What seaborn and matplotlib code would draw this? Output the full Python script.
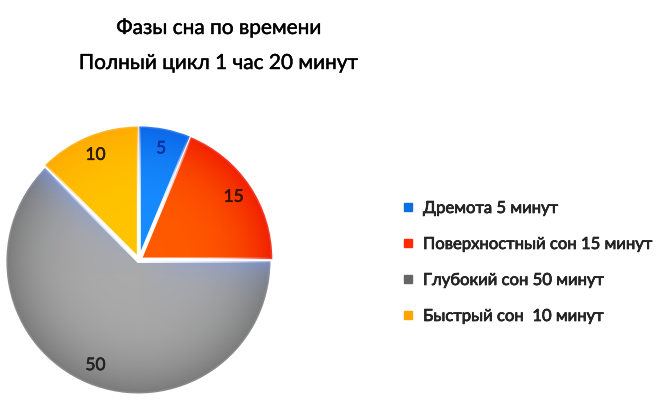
import numpy as np
import matplotlib
matplotlib.use("Agg")
import matplotlib.pyplot as plt
import matplotlib.patheffects as pe
import seaborn as sns
from matplotlib.colors import to_rgb
from matplotlib.lines import Line2D

# Sleep phases within one full cycle (minutes)
phases = ["Дремота 5 минут", "Поверхностный сон 15 минут",
          "Глубокий сон 50 минут", "Быстрый сон  10 минут"]
minutes = [5, 15, 50, 10]
slice_colors = ["#168cff", "#ff5a00", "#aaaaaa", "#ffc400"]
rim_colors = ["#0a62e6", "#f01800", "#747474", "#ffa800"]
legend_colors = ["#0a6fe0", "#ff2a00", "#666666", "#ffa500"]
label_colors = ["#1030a0", "#3a1200", "#222222", "#2a1a00"]
title_lines = ["Фазы сна по времени", "Полный цикл 1 час 20 минут"]

sns.set_theme(style="white")
plt.rcParams["font.family"] = ["Lato", "DejaVu Sans"]

fig = plt.figure(figsize=(6.6, 4.0), dpi=100)

# pie axes: centre near (139, 260) px, radius about 132 px
R = 134
cx, cy = 139, 260
ax = fig.add_axes([(cx - R) / 660, (400 - cy - R) / 400, 2 * R / 660, 2 * R / 400])

wedges, texts = ax.pie(
    minutes, colors=slice_colors, startangle=90, counterclock=False,
    explode=[0.012] * len(minutes), radius=0.985,
    labels=[str(m) for m in minutes], labeldistance=0.85,
    wedgeprops=dict(edgecolor="white", linewidth=2.2),
    textprops=dict(fontsize=12.5),
)
for t, c in zip(texts, label_colors):
    t.set_ha("center")
    t.set_va("center")
    t.set_color(c)
    t.set_zorder(10)
    t.set_path_effects([pe.withStroke(linewidth=0.4, foreground=c)])

# soft radial shading over each slice, toward a deeper rim colour
n = 400
g = np.linspace(-1.05, 1.05, n)
X, Y = np.meshgrid(g, g[::-1])
Rr = np.sqrt(X ** 2 + Y ** 2)
alpha = np.clip(0.9 * Rr ** 3.5, 0, 0.85)
for w, rc in zip(wedges, rim_colors):
    shade = np.zeros((n, n, 4))
    shade[..., :3] = to_rgb(rc)
    shade[..., 3] = alpha
    im = ax.imshow(shade, extent=[-1.05, 1.05, -1.05, 1.05], zorder=w.get_zorder() + 0.5,
                   interpolation="bilinear")
    im.set_clip_path(w)

# bluish sheen along the straight edges of the large slice
deep = wedges[2]
d_right = np.where(X > 0, np.abs(Y), 9)
a135 = np.radians(135)
d_left = np.abs(X * np.sin(a135) - Y * np.cos(a135))
d_left = np.where((X < 0) & (Y > -0.1), d_left, 9)
tint = np.zeros((n, n, 4))
tint[..., 0] = 0.48
tint[..., 1] = 0.62
tint[..., 2] = 1.0
tint[..., 3] = np.clip(0.6 * np.exp(-d_right / 0.12) * np.clip(X, 0, 1) ** 0.6
                       + 0.7 * np.exp(-d_left / 0.10) * np.clip(Rr, 0, 1) ** 0.8, 0, 0.65)
im = ax.imshow(tint, extent=[-1.05, 1.05, -1.05, 1.05], zorder=deep.get_zorder() + 0.6,
               interpolation="bilinear")
im.set_clip_path(deep)

ax.set_xlim(-1.0, 1.0)
ax.set_ylim(-1.0, 1.0)
ax.set_aspect("equal")
ax.axis("off")

# title
for i, line in enumerate(title_lines):
    fig.text(219 / 660, 1 - (28 + 35 * i) / 400, line, ha="center", va="center",
             fontsize=15, color="black",
             path_effects=[pe.withStroke(linewidth=0.3, foreground="black")])

# legend
handles = [Line2D([0], [0], marker="s", linestyle="none", markersize=5.5,
                  markerfacecolor=c, markeredgecolor=c) for c in legend_colors]
leg = fig.legend(handles, phases, loc="upper left", bbox_to_anchor=(403 / 660, 1 - 200 / 400),
                 frameon=False, fontsize=12, labelspacing=1.2, handlelength=0.6,
                 handletextpad=0.6, borderaxespad=0, borderpad=0)
for t in leg.get_texts():
    t.set_path_effects([pe.withStroke(linewidth=0.45, foreground="black")])

fig.savefig("out.png", dpi=100, facecolor="white")
